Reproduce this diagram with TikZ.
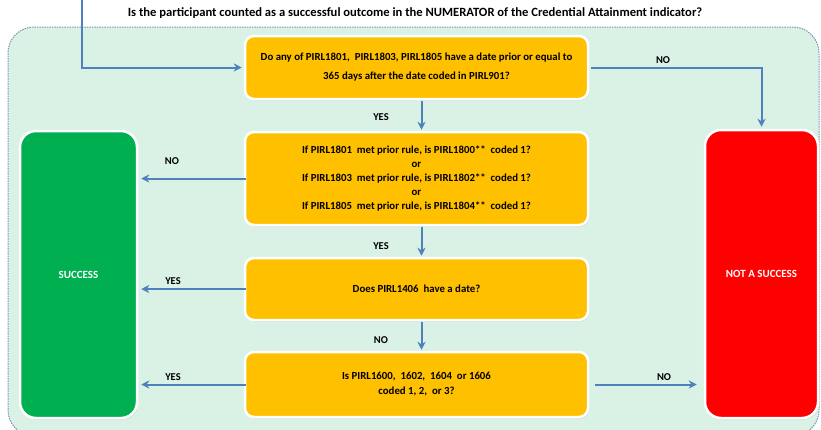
\documentclass[tikz,border=0pt]{standalone}
\usepackage{fontspec}
\setmainfont{Carlito}
\usetikzlibrary{arrows.meta,shadows}
\definecolor{bgreen}{HTML}{DAF2E5}
\definecolor{frame}{HTML}{7F93B5}
\definecolor{qorange}{HTML}{FFC000}
\definecolor{sgreen}{HTML}{00B050}
\definecolor{nred}{HTML}{FF0000}
\definecolor{arrowblue}{HTML}{4F81BD}
\tikzset{
  qbox/.style={draw=white, line width=2.5pt, fill=qorange, rounded corners=9pt,
    minimum width=343pt, align=center, font=\bfseries\fontsize{10.8}{14}\selectfont,
    drop shadow={opacity=0.25, shadow xshift=1pt, shadow yshift=-1.5pt}},
  endbox/.style={draw=white, line width=2.5pt, rounded corners=16pt, text=white,
    align=center, font=\bfseries\fontsize{11}{13}\selectfont,
    drop shadow={opacity=0.25, shadow xshift=1pt, shadow yshift=-1.5pt}},
  conn/.style={draw=arrowblue, line width=2pt, -{Stealth[length=8pt,width=8pt,inset=2.5pt]}},
  lbl/.style={font=\bfseries\fontsize{10.5}{12}\selectfont, inner sep=0pt}
}
\begin{document}
\begin{tikzpicture}[x=1pt,y=-1pt]
\useasboundingbox (0,0) rectangle (821,429);
% container
\draw[fill=bgreen, draw=frame, line width=1pt, dash pattern=on 1.5pt off 1pt, rounded corners=26pt]
  (8,27) rectangle (819,436);
\node[font=\bfseries\fontsize{12.6}{14}\selectfont, inner sep=0pt] (title) at (415,13)
  {Is the participant counted as a successful outcome in the NUMERATOR of the Credential Attainment indicator?};
% boxes
\node[qbox, minimum height=63pt, font=\bfseries\fontsize{10.8}{19}\selectfont] (b1) at (416.5,67.5)
  {Do any of PIRL1801,\ \ PIRL1803, PIRL1805 have a date prior or equal to\\365 days after the date coded in PIRL901?};
\node[qbox, minimum height=93pt, font=\bfseries\fontsize{10.8}{14}\selectfont] (b2) at (416.5,178.5)
  {If PIRL1801\ \ met prior rule, is PIRL1800**\ \ coded 1?\\or\\If PIRL1803\ \ met prior rule, is PIRL1802**\ \ coded 1?\\or\\If PIRL1805\ \ met prior rule, is PIRL1804**\ \ coded 1?};
\node[qbox, minimum height=62pt] (b3) at (416.5,289) {Does PIRL1406\ \ have a date?};
\node[qbox, minimum height=65pt, font=\bfseries\fontsize{10.8}{15}\selectfont] (b4) at (416.5,384.5)
  {Is PIRL1600,\ \ 1602,\ \ 1604\ \ or 1606\\coded 1, 2,\ \ or 3?};
\node[endbox, fill=sgreen, minimum width=117pt, minimum height=287pt] (succ) at (78.5,274.5) {SUCCESS};
\node[endbox, fill=nred, minimum width=113pt, minimum height=288pt] (fail) at (761.5,274) {NOT A SUCCESS};
% connectors
\coordinate (start) at (82,0);
\draw[conn] (start) |- ([xshift=-2pt]b1.west);
\draw[conn] ([xshift=2pt]b1.east) -| ([yshift=2pt]fail.north);
\draw[conn] ([xshift=5pt,yshift=-1pt]b1.south) -- ([xshift=5pt,yshift=1pt]b2.north);
\draw[conn] ([xshift=5pt,yshift=-1pt]b2.south) -- ([xshift=5pt,yshift=1pt]b3.north);
\draw[conn] ([xshift=5pt,yshift=-1pt]b3.south) -- ([xshift=5pt,yshift=1pt]b4.north);
\draw[conn, shorten >=3pt] ([xshift=2pt]b2.west) -- (b2.west -| succ.east);
\draw[conn, shorten >=3pt] ([xshift=2pt]b3.west) -- (b3.west -| succ.east);
\draw[conn, shorten >=3pt] ([xshift=2pt]b4.west) -- (b4.west -| succ.east);
\draw[conn, shorten <=6pt, shorten >=7pt] (b4.east) -- (b4.east -| fail.west);
% labels
\node[lbl] (l1) at (663,60) {NO};
\node[lbl] (l2) at (381,117) {YES};
\node[lbl] (l3) at (172,161) {NO};
\node[lbl] (l4) at (381,246) {YES};
\node[lbl] (l5) at (173,281) {YES};
\node[lbl] (l6) at (381,340) {NO};
\node[lbl] (l7) at (173,377) {YES};
\node[lbl] (l8) at (664,377) {NO};
\end{tikzpicture}
\end{document}
